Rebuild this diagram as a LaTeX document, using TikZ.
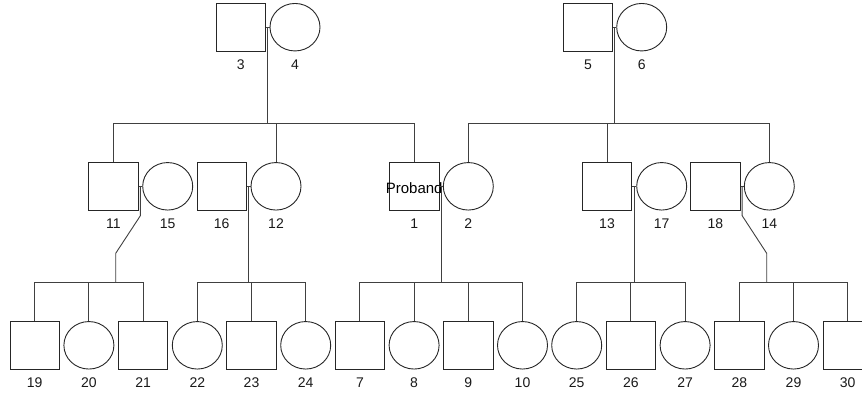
\documentclass[tikz,border=0pt]{standalone}
\usepackage{fontspec}
\setmainfont{Liberation Sans}
\usetikzlibrary{shapes.geometric,calc}
\begin{document}
\begin{tikzpicture}[x=1pt,y=-1pt,
  sq/.style={draw=black!85,line width=0.9pt,minimum width=49.5pt,minimum height=47.5pt,inner sep=0pt},
  ci/.style={ellipse,draw=black!85,line width=0.9pt,minimum width=50pt,minimum height=47.5pt,inner sep=0pt},
  lbl/.style={anchor=base,font=\fontsize{14}{16}\selectfont,inner sep=0pt,text=black!90},
  ln/.style={draw=black!75,line width=0.9pt}]
\useasboundingbox (0,0) rectangle (862,394);
% generation I
\node[sq] (s3) at (240.7,27.2) {};
\node[ci] (c4) at (295,27.2) {};
\node[sq] (s5) at (588,27.2) {};
\node[ci] (c6) at (641.7,27.2) {};
% generation II
\node[sq] (s11) at (113.3,186.3) {};
\node[ci] (c15) at (167.7,186.3) {};
\node[sq] (s16) at (221.7,186.3) {};
\node[ci] (c12) at (276,186.3) {};
\node[sq] (s1) at (414.2,186.3) {};
\node[ci] (c2) at (468.3,186.3) {};
\node[sq] (s13) at (607,186.3) {};
\node[ci] (c17) at (661.7,186.3) {};
\node[sq] (s18) at (715.3,186.3) {};
\node[ci] (c14) at (769.3,186.3) {};
% generation III
\node[sq] (s19) at (34.7,345.3) {};
\node[ci] (c20) at (88.9,345.3) {};
\node[sq] (s21) at (143.1,345.3) {};
\node[ci] (c22) at (197.3,345.3) {};
\node[sq] (s23) at (251.5,345.3) {};
\node[ci] (c24) at (305.7,345.3) {};
\node[sq] (s7) at (359.9,345.3) {};
\node[ci] (c8) at (414.1,345.3) {};
\node[sq] (s9) at (468.3,345.3) {};
\node[ci] (c10) at (522.5,345.3) {};
\node[ci] (c25) at (576.7,345.3) {};
\node[sq] (s26) at (630.9,345.3) {};
\node[ci] (c27) at (685.1,345.3) {};
\node[sq] (s28) at (739.3,345.3) {};
\node[ci] (c29) at (793.5,345.3) {};
\node[sq] (s30) at (847.7,345.3) {};
% labels
\foreach \n/\t in {s3/3,c4/4,s5/5,c6/6,s11/11,c15/15,s16/16,c12/12,s1/1,c2/2,s13/13,c17/17,s18/18,c14/14,
  s19/19,c20/20,s21/21,c22/22,s23/23,c24/24,s7/7,c8/8,s9/9,c10/10,c25/25,s26/26,c27/27,s28/28,c29/29,s30/30}
  \node[lbl] (l\t) at ([yshift=-17.8pt]\n.south) {\t};
\node[anchor=base,inner sep=0pt,font=\fontsize{15}{17}\selectfont] (prob) at ([yshift=-7pt]s1.center) {Proband};
% sibship levels
\coordinate (h1) at (0,123);
\coordinate (h2) at (0,282.3);
% marriage 3-4
\coordinate (m34) at ($(s3.east)!0.5!(c4.west)$);
\draw[ln] (s3.east) -- (c4.west);
\draw[ln] (m34) -- (m34 |- h1);
\draw[ln] (s11.north) -- (s11.north |- h1) -- (s1.north |- h1) -- (s1.north);
\draw[ln] (c12.north) -- (c12.north |- h1);
% marriage 5-6
\coordinate (m56) at ($(s5.east)!0.5!(c6.west)$);
\draw[ln] (s5.east) -- (c6.west);
\draw[ln] (m56) -- (m56 |- h1);
\draw[ln] (c2.north) -- (c2.north |- h1) -- (c14.north |- h1) -- (c14.north);
\draw[ln] (s13.north) -- (s13.north |- h1);
% marriage 11-15
\coordinate (m1115) at ($(s11.east)!0.5!(c15.west)$);
\draw[ln] (s11.east) -- (c15.west);
\draw[ln] (m1115) -- ++(0,29.4) -- (115.7,253.3) -- (115.7,282.3);
\draw[ln] (s19.north) -- (s19.north |- h2) -- (s21.north |- h2) -- (s21.north);
\draw[ln] (c20.north) -- (c20.north |- h2);
% marriage 16-12
\coordinate (m1612) at ($(s16.east)!0.5!(c12.west)$);
\draw[ln] (s16.east) -- (c12.west);
\draw[ln] (m1612) -- (m1612 |- h2);
\draw[ln] (c22.north) -- (c22.north |- h2) -- (c24.north |- h2) -- (c24.north);
\draw[ln] (s23.north) -- (s23.north |- h2);
% marriage 1-2
\coordinate (m12) at ($(s1.east)!0.5!(c2.west)$);
\draw[ln] (s1.east) -- (c2.west);
\draw[ln] (m12) -- (m12 |- h2);
\draw[ln] (s7.north) -- (s7.north |- h2) -- (c10.north |- h2) -- (c10.north);
\draw[ln] (c8.north) -- (c8.north |- h2);
\draw[ln] (s9.north) -- (s9.north |- h2);
% marriage 13-17
\coordinate (m1317) at ($(s13.east)!0.5!(c17.west)$);
\draw[ln] (s13.east) -- (c17.west);
\draw[ln] (m1317) -- (m1317 |- h2);
\draw[ln] (c25.north) -- (c25.north |- h2) -- (c27.north |- h2) -- (c27.north);
\draw[ln] (s26.north) -- (s26.north |- h2);
% marriage 18-14
\coordinate (m1814) at ($(s18.east)!0.5!(c14.west)$);
\draw[ln] (s18.east) -- (c14.west);
\draw[ln] (m1814) -- ++(0,29.4) -- (766.7,253.3) -- (766.7,282.3);
\draw[ln] (s28.north) -- (s28.north |- h2) -- (s30.north |- h2) -- (s30.north);
\draw[ln] (c29.north) -- (c29.north |- h2);
\end{tikzpicture}
\end{document}
